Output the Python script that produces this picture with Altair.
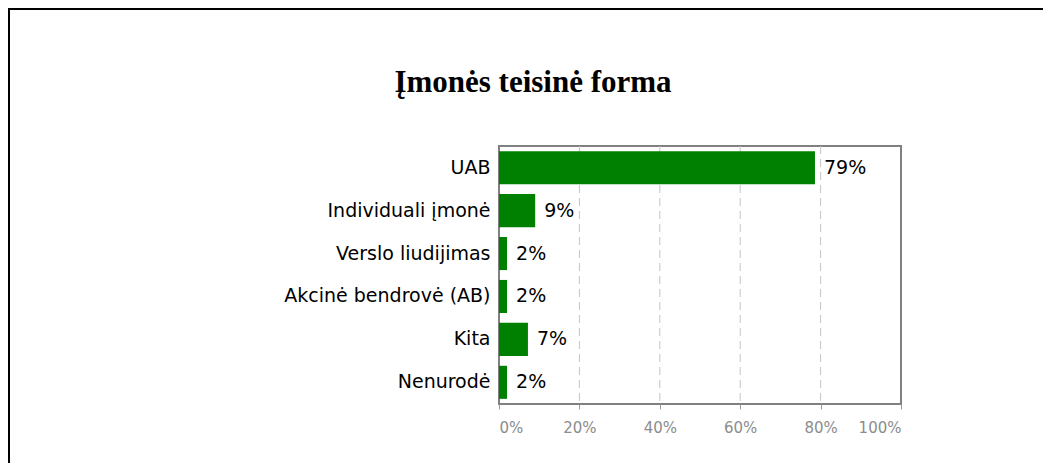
import altair as alt
import pandas as pd

categories = ["UAB", "Individuali įmonė", "Verslo liudijimas", "Akcinė bendrovė (AB)", "Kita", "Nenurodė"]
values = [0.786, 0.09, 0.02, 0.02, 0.072, 0.02]
x_ticks = [0, 0.2, 0.4, 0.6, 0.8, 1.0]
grid_values = [0.2, 0.4, 0.6, 0.8]
title_text = "Įmonės teisinė forma"

df = pd.DataFrame({"cat": categories, "value": values})
grid_df = pd.DataFrame({"g": grid_values})

W, H = 402, 258
PAD = {"left": 491, "top": 138, "right": 142, "bottom": 59}

y_enc = alt.Y(
    "cat:N",
    sort=categories,
    scale=alt.Scale(paddingInner=0.23, paddingOuter=0.12),
    axis=alt.Axis(
        title=None, ticks=False, domain=False, labelPadding=9,
        labelFont="DejaVu Sans", labelFontSize=19, labelColor="#000",
        labelLimit=400,
    ),
)
x_enc = alt.X(
    "value:Q",
    scale=alt.Scale(domain=[0, 1], nice=False),
    axis=alt.Axis(
        values=x_ticks, format=".0%", title=None, domain=False, grid=False,
        tickColor="#9a9a9a", tickSize=5, tickWidth=1,
        labelFont="DejaVu Sans", labelFontSize=15, labelColor="#8c8c8c",
        labelPadding=11,
    ),
)

grid = alt.Chart(grid_df).mark_rule(color="#c4c4c4", strokeWidth=1, strokeDash=[8, 5]).encode(
    x=alt.X("g:Q", scale=alt.Scale(domain=[0, 1], nice=False)),
    y=alt.value(0), y2=alt.value(H),
)

base = alt.Chart(df)
bars = base.mark_bar(color="#008000").encode(x=x_enc, y=y_enc)
labels = base.mark_text(
    align="left", baseline="middle", dx=9, font="DejaVu Sans", fontSize=19, color="#000"
).encode(x="value:Q", y=alt.Y("cat:N", sort=categories), text=alt.Text("value:Q", format=".0%"))

single = alt.Data(values=[{"t": title_text}])
title_mark = alt.Chart(single).mark_text(
    font="Liberation Serif", fontSize=31, fontWeight="bold", color="#000",
    align="center", baseline="alphabetic",
).encode(x=alt.value(34), y=alt.value(-54), text="t:N")

top_border = alt.Chart(single).mark_rule(color="#000", strokeWidth=2).encode(
    x=alt.value(-PAD["left"]), x2=alt.value(W + PAD["right"]), y=alt.value(-PAD["top"] + 1)
)
left_border = alt.Chart(single).mark_rule(color="#000", strokeWidth=2).encode(
    x=alt.value(-PAD["left"] + 1), y=alt.value(-PAD["top"]), y2=alt.value(H + PAD["bottom"])
)

chart = (
    alt.layer(grid, bars, labels, title_mark, top_border, left_border)
    .properties(
        width=W,
        height=H,
        autosize=alt.AutoSizeParams(type="none"),
        padding=PAD,
        background="white",
    )
    .configure_view(stroke="#808080", strokeWidth=2)
)

chart.save("out.html", embed_options={"renderer": "svg", "actions": False})
